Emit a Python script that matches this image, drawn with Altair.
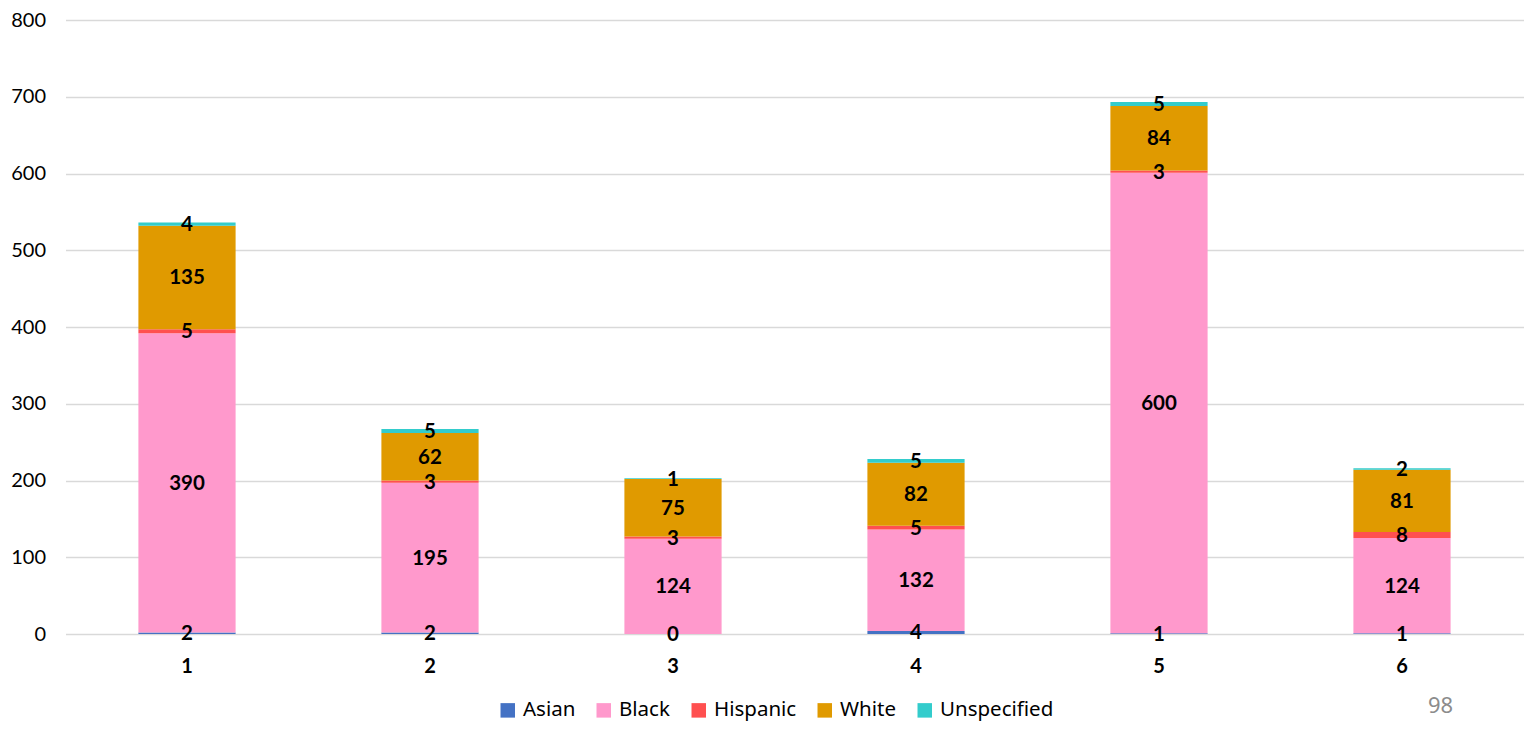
import altair as alt
import pandas as pd

categories = ["1", "2", "3", "4", "5", "6"]
races = ["Asian", "Black", "Hispanic", "White", "Unspecified"]
colors = ["#4472C4", "#FF99CC", "#FF5050", "#E09A00", "#33CCCC"]
asian = [2, 2, 0, 4, 1, 1]
black = [390, 195, 124, 132, 600, 124]
hispanic = [5, 3, 3, 5, 3, 8]
white = [135, 62, 75, 82, 84, 81]
unspecified = [4, 5, 1, 5, 5, 2]
y_ticks = [0, 100, 200, 300, 400, 500, 600, 700, 800]
page_number = ["98"]

series = [asian, black, hispanic, white, unspecified]
rows = []
for ri, (race, vals) in enumerate(zip(races, series)):
    for c, v in zip(categories, vals):
        rows.append({"cat": c, "race": race, "value": v, "ord": ri})
df = pd.DataFrame(rows)

x_enc = alt.X(
    "cat:N",
    sort=categories,
    scale=alt.Scale(paddingInner=0.6, paddingOuter=0.3),
    axis=alt.Axis(
        title=None, labelAngle=0, labelFont="Lato", labelFontSize=20,
        labelFontWeight="bold", labelColor="#000000", ticks=False,
        domain=False, labelPadding=22, grid=False,
    ),
)

bars = alt.Chart(df).mark_bar().encode(
    x=x_enc,
    y=alt.Y(
        "value:Q",
        stack="zero",
        scale=alt.Scale(domain=[0, 800]),
        axis=alt.Axis(
            title=None, values=y_ticks, labelFont="Lato", labelFontSize=20,
            labelColor="#000000", ticks=False, domain=False, labelPadding=20,
            gridColor="#D9D9D9", gridWidth=1.5,
        ),
    ),
    color=alt.Color(
        "race:N",
        sort=races,
        scale=alt.Scale(domain=races, range=colors),
        legend=alt.Legend(
            title=None, orient="none", legendX=432, legendY=680,
            direction="horizontal", symbolType="square", symbolSize=210,
            symbolStrokeWidth=0, labelFont="Noto Sans", labelFontSize=20.5,
            labelColor="#000000", columnPadding=18, labelOffset=5,
        ),
    ),
    order=alt.Order("ord:Q"),
)

labels = (
    alt.Chart(df)
    .transform_stack(
        stack="value", groupby=["cat"], as_=["v0", "v1"],
        sort=[alt.SortField("ord", order="ascending")],
    )
    .transform_calculate(mid="(datum.v0 + datum.v1) / 2")
    .mark_text(font="Lato", fontSize=20.5, fontWeight="bold", color="#000000", baseline="middle", dy=1)
    .encode(x=alt.X("cat:N", sort=categories), y=alt.Y("mid:Q"), text="value:Q")
)

page = (
    alt.Chart(pd.DataFrame({"t": page_number}))
    .mark_text(font="Noto Sans", fontSize=22, color="#8C8C8C", baseline="alphabetic")
    .encode(x=alt.value(1375), y=alt.value(693), text="t:N")
)

chart = (
    alt.layer(bars, labels, page)
    .properties(
        width=1458, height=614,
        padding={"left": 57.5, "top": 12, "right": 1, "bottom": 87},
        autosize=alt.AutoSizeParams(type="none"),
    )
    .configure_view(stroke=None)
)

chart.save("out.html", embed_options={"renderer": "svg", "actions": False})
